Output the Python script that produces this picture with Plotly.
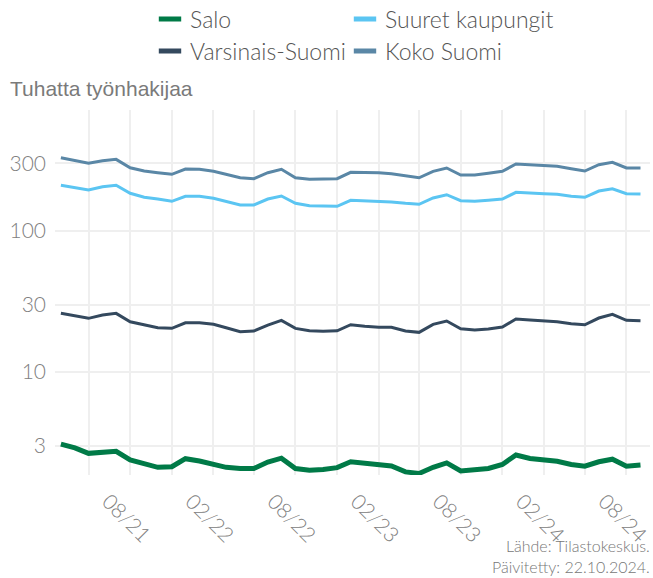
import plotly.graph_objects as go

months = [
    "2021-03-01", "2021-04-01", "2021-05-01", "2021-06-01", "2021-07-01", "2021-08-01",
    "2021-09-01", "2021-10-01", "2021-11-01", "2021-12-01", "2022-01-01", "2022-02-01",
    "2022-03-01", "2022-04-01", "2022-05-01", "2022-06-01", "2022-07-01", "2022-08-01",
    "2022-09-01", "2022-10-01", "2022-11-01", "2022-12-01", "2023-01-01", "2023-02-01",
    "2023-03-01", "2023-04-01", "2023-05-01", "2023-06-01", "2023-07-01", "2023-08-01",
    "2023-09-01", "2023-10-01", "2023-11-01", "2023-12-01", "2024-01-01", "2024-02-01",
    "2024-03-01", "2024-04-01", "2024-05-01", "2024-06-01", "2024-07-01", "2024-08-01",
    "2024-09-01",
]

salo = [3.08, 2.90, 2.65, 2.68, 2.74, 2.38, 2.23, 2.11, 2.13, 2.43, 2.34, 2.21,
        2.11, 2.07, 2.07, 2.30, 2.45, 2.07, 2.01, 2.04, 2.10, 2.31, 2.25, 2.21,
        2.16, 1.96, 1.91, 2.11, 2.27, 1.99, 2.02, 2.07, 2.21, 2.58, 2.44, 2.38,
        2.33, 2.21, 2.15, 2.31, 2.41, 2.15, 2.19]

suuret_kaupungit = [209.5, 202.1, 194.1, 204.8, 209.5, 183.9, 172.3, 167.6, 161.4, 175.1, 175.1, 169.5,
                    161.4, 152.0, 152.0, 167.6, 175.9, 156.2, 150.2, 148.8, 148.8, 164.1, 163.0, 162.2,
                    159.6, 156.2, 153.7, 170.4, 179.7, 163.0, 161.4, 164.1, 167.6, 186.9, 183.9, 182.7,
                    180.9, 175.1, 172.3, 190.9, 198.2, 182.7, 181.8]

varsinais_suomi = [25.98, 24.9, 23.95, 25.27, 25.98, 22.66, 21.47, 20.55, 20.34, 22.29, 22.29, 21.72,
                   20.55, 19.24, 19.46, 21.47, 23.18, 20.34, 19.56, 19.38, 19.56, 21.58, 21.02, 20.68,
                   20.68, 19.46, 19.06, 21.72, 22.92, 20.21, 19.79, 20.11, 20.78, 23.67, 23.29, 23.03,
                   22.66, 21.93, 21.58, 24.07, 25.56, 23.18, 23.03]

koko_suomi = [328.6, 314.0, 300.0, 313.0, 320.0, 279.0, 264.6, 257.3, 250.7, 273.3, 272.0, 263.3,
              249.0, 237.0, 233.3, 257.3, 272.0, 237.0, 231.0, 231.0, 233.3, 259.0, 259.0, 257.3,
              253.0, 245.0, 237.0, 263.3, 277.8, 247.8, 247.8, 254.8, 263.3, 296.5, 291.7, 290.3,
              285.6, 274.7, 264.6, 293.2, 304.9, 277.8, 277.8]

x_tick_vals = ["2021-08-01", "2022-02-01", "2022-08-01", "2023-02-01",
               "2023-08-01", "2024-02-01", "2024-08-01"]
x_tick_text = ["08/21", "02/22", "08/22", "02/23", "08/23", "02/24", "08/24"]
x_minor_vals = ["2021-05-01", "2021-11-01", "2022-05-01", "2022-11-01",
                "2023-05-01", "2023-11-01", "2024-05-01"]
y_tick_vals = [3, 10, 30, 100, 300]
y_tick_text = ["3", "10", "30", "100", "300"]

series = [
    ("Salo", salo, "#007A47", 5, "legend", 150),
    ("Suuret kaupungit", suuret_kaupungit, "#5BC5F2", 3, "legend", 200),
    ("Varsinais-Suomi", varsinais_suomi, "#34495E", 3, "legend2", 150),
    ("Koko Suomi", koko_suomi, "#5A87A6", 3, "legend2", 200),
]

W, H = 653, 578
L, R, T, B = 55, 0, 110, 103
PW, PH = W - L - R, H - T - B

FONT = "'Lato Light', Lato, 'Open Sans', sans-serif"

fig = go.Figure()
for name, vals, color, width, leg, lw in series:
    fig.add_trace(go.Scatter(
        x=months, y=vals, mode="lines", name=name, showlegend=False,
        line=dict(color=color, width=width),
    ))
for name, vals, color, width, leg, lw in series:
    fig.add_trace(go.Scatter(
        x=[None], y=[None], mode="markers", name=name, legend=leg, legendwidth=lw,
        marker=dict(symbol="line-ew", size=16, color=color,
                    line=dict(color=color, width=5)),
    ))

legend_common = dict(
    orientation="h", xref="container", yref="container",
    xanchor="left", yanchor="middle",
    font=dict(family=FONT, size=23, color="#555555"),
    bgcolor="rgba(0,0,0,0)", borderwidth=0, itemclick=False,
)

fig.update_layout(
    width=W, height=H,
    margin=dict(l=L, r=R, t=T, b=B, pad=0),
    paper_bgcolor="white", plot_bgcolor="white",
    legend=dict(x=150 / W, y=1 - 19 / H, **legend_common),
    legend2=dict(x=150 / W, y=1 - 51 / H, **legend_common),
    xaxis=dict(
        type="date",
        range=["2021-02-16", "2024-09-22"],
        tickmode="array", tickvals=x_tick_vals, ticktext=x_tick_text,
        tickangle=45, ticklabelshift=-22, ticklabelstandoff=9,
        ticklabeloverflow="allow",
        tickfont=dict(family=FONT, size=21, color="#808080"),
        showgrid=True, gridcolor="#EFEFEF", gridwidth=2,
        minor=dict(tickmode="array", tickvals=x_minor_vals, showgrid=True,
                   gridcolor="#EFEFEF", gridwidth=2),
        zeroline=False, showline=False, ticks="",
    ),
    yaxis=dict(
        type="log", range=[0.270, 2.8545],
        tickmode="array", tickvals=y_tick_vals, ticktext=y_tick_text,
        tickfont=dict(family=FONT, size=21, color="#808080"),
        ticklabelstandoff=8,
        showgrid=True, gridcolor="#EFEFEF", gridwidth=2,
        zeroline=False, showline=False, ticks="",
    ),
    annotations=[
        dict(text="Tuhatta työnhakijaa", xref="paper", yref="paper",
             x=(8 - L) / PW, y=(H - B - 88) / PH, xanchor="left", yanchor="middle",
             showarrow=False,
             font=dict(family="'Liberation Sans', Arial, sans-serif", size=21, color="#7A7A7A")),
        dict(text="Lähde: Tilastokeskus.<br>Päivitetty: 22.10.2024.",
             xref="paper", yref="paper", x=1.0, y=(H - B - 578) / PH,
             xanchor="right", yanchor="bottom", align="right", showarrow=False,
             xshift=2, yshift=0,
             font=dict(family=FONT, size=16, color="#777777")),
    ],
)

fig.write_html("out.html", config={"displayModeBar": False},
               post_script="document.body.style.margin='0px';")
